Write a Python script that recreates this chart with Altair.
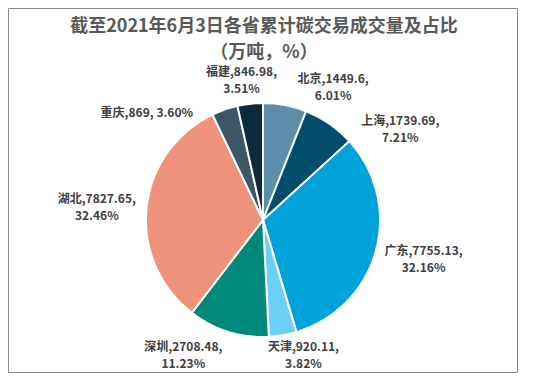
import altair as alt
import pandas as pd

provinces = ["北京", "上海", "广东", "天津", "深圳", "湖北", "重庆", "福建"]
volumes = [1449.6, 1739.69, 7755.13, 920.11, 2708.48, 7827.65, 869, 846.98]
shares = ["6.01%", "7.21%", "32.16%", "3.82%", "11.23%", "32.46%", "3.60%", "3.51%"]
colors = ["#5B8FA9", "#004E6C", "#00A2DA", "#6DCFF6", "#00897B", "#EE937A", "#3B5664", "#0E2B3D"]
title_lines = ["截至2021年6月3日各省累计碳交易成交量及占比", "（万吨，%）"]

def fmt(v):
    return f"{v:.2f}".rstrip("0").rstrip(".")

labels = []
for p, v, s in zip(provinces, volumes, shares):
    if p == "重庆":
        labels.append(f"{p},{fmt(v)}, {s}")
    else:
        labels.append(f"{p},{fmt(v)},\n{s}")

df = pd.DataFrame({
    "province": provinces,
    "volume": volumes,
    "label": labels,
    "idx": list(range(len(provinces))),
})

W, H = 510, 365
CX, CY = 255, 212
R = 117
TWO_PI = 6.283185307179586

pie = alt.Chart(df).mark_arc(outerRadius=R, stroke="white", strokeWidth=2).encode(
    theta=alt.Theta("volume:Q", stack=True),
    order=alt.Order("idx:O"),
    color=alt.Color("province:N", scale=alt.Scale(domain=provinces, range=colors), legend=None),
    x=alt.value(CX), y=alt.value(CY),
)

# label nudges (layout only)
nudges = {
    "北京": (42, 6), "上海": (52, 24), "广东": (16, -9), "天津": (15, -21),
    "深圳": (-35, -16), "湖北": (-17, -5), "重庆": (-67, 35), "福建": (-5, 1),
}

label_layers = []
for p in provinces:
    dx, dy = nudges[p]
    t = alt.Chart(df).transform_joinaggregate(
        total="sum(volume)"
    ).transform_window(
        cum="sum(volume)", sort=[alt.SortField("idx")], frame=[None, 0]
    ).transform_calculate(
        mid="(datum.cum - datum.volume/2) / datum.total * 2 * PI"
    ).transform_filter(alt.datum.province == p).mark_text(
        radius=150, dx=dx, dy=dy, lineBreak="\n", align="center", baseline="middle",
        font="Noto Sans CJK SC", fontSize=12, fontWeight="bold", color="#404040", lineHeight=17,
    ).encode(
        theta=alt.Theta("mid:Q", scale=alt.Scale(domain=[0, TWO_PI], range=[0, TWO_PI])),
        text="label:N",
        x=alt.value(CX), y=alt.value(CY),
    )
    label_layers.append(t)

title_df = pd.DataFrame({"t": title_lines, "line": [0, 1]})
title = alt.Chart(title_df).mark_text(
    font="Noto Sans CJK SC", fontSize=18, fontWeight="bold", color="#595959",
    align="center", baseline="middle",
).encode(
    text="t:N",
    x=alt.value(256),
    y=alt.Y("line:Q", scale=alt.Scale(domain=[0, 1], range=[19, 45]), axis=None),
)

frame = alt.Chart(pd.DataFrame({"a": [0]})).mark_rect(
    fill=None, stroke="#8a8a8a", strokeWidth=1
).encode(
    x=alt.value(0.5), x2=alt.value(W - 0.5), y=alt.value(0.5), y2=alt.value(H - 0.5)
)

chart = alt.layer(pie, *label_layers, title, frame).properties(
    width=W, height=H, autosize=alt.AutoSizeParams(type="none"), padding=0
).resolve_scale(theta="independent", y="independent").configure_view(stroke=None)

chart.save("out.html", embed_options={"renderer": "svg", "actions": False})
